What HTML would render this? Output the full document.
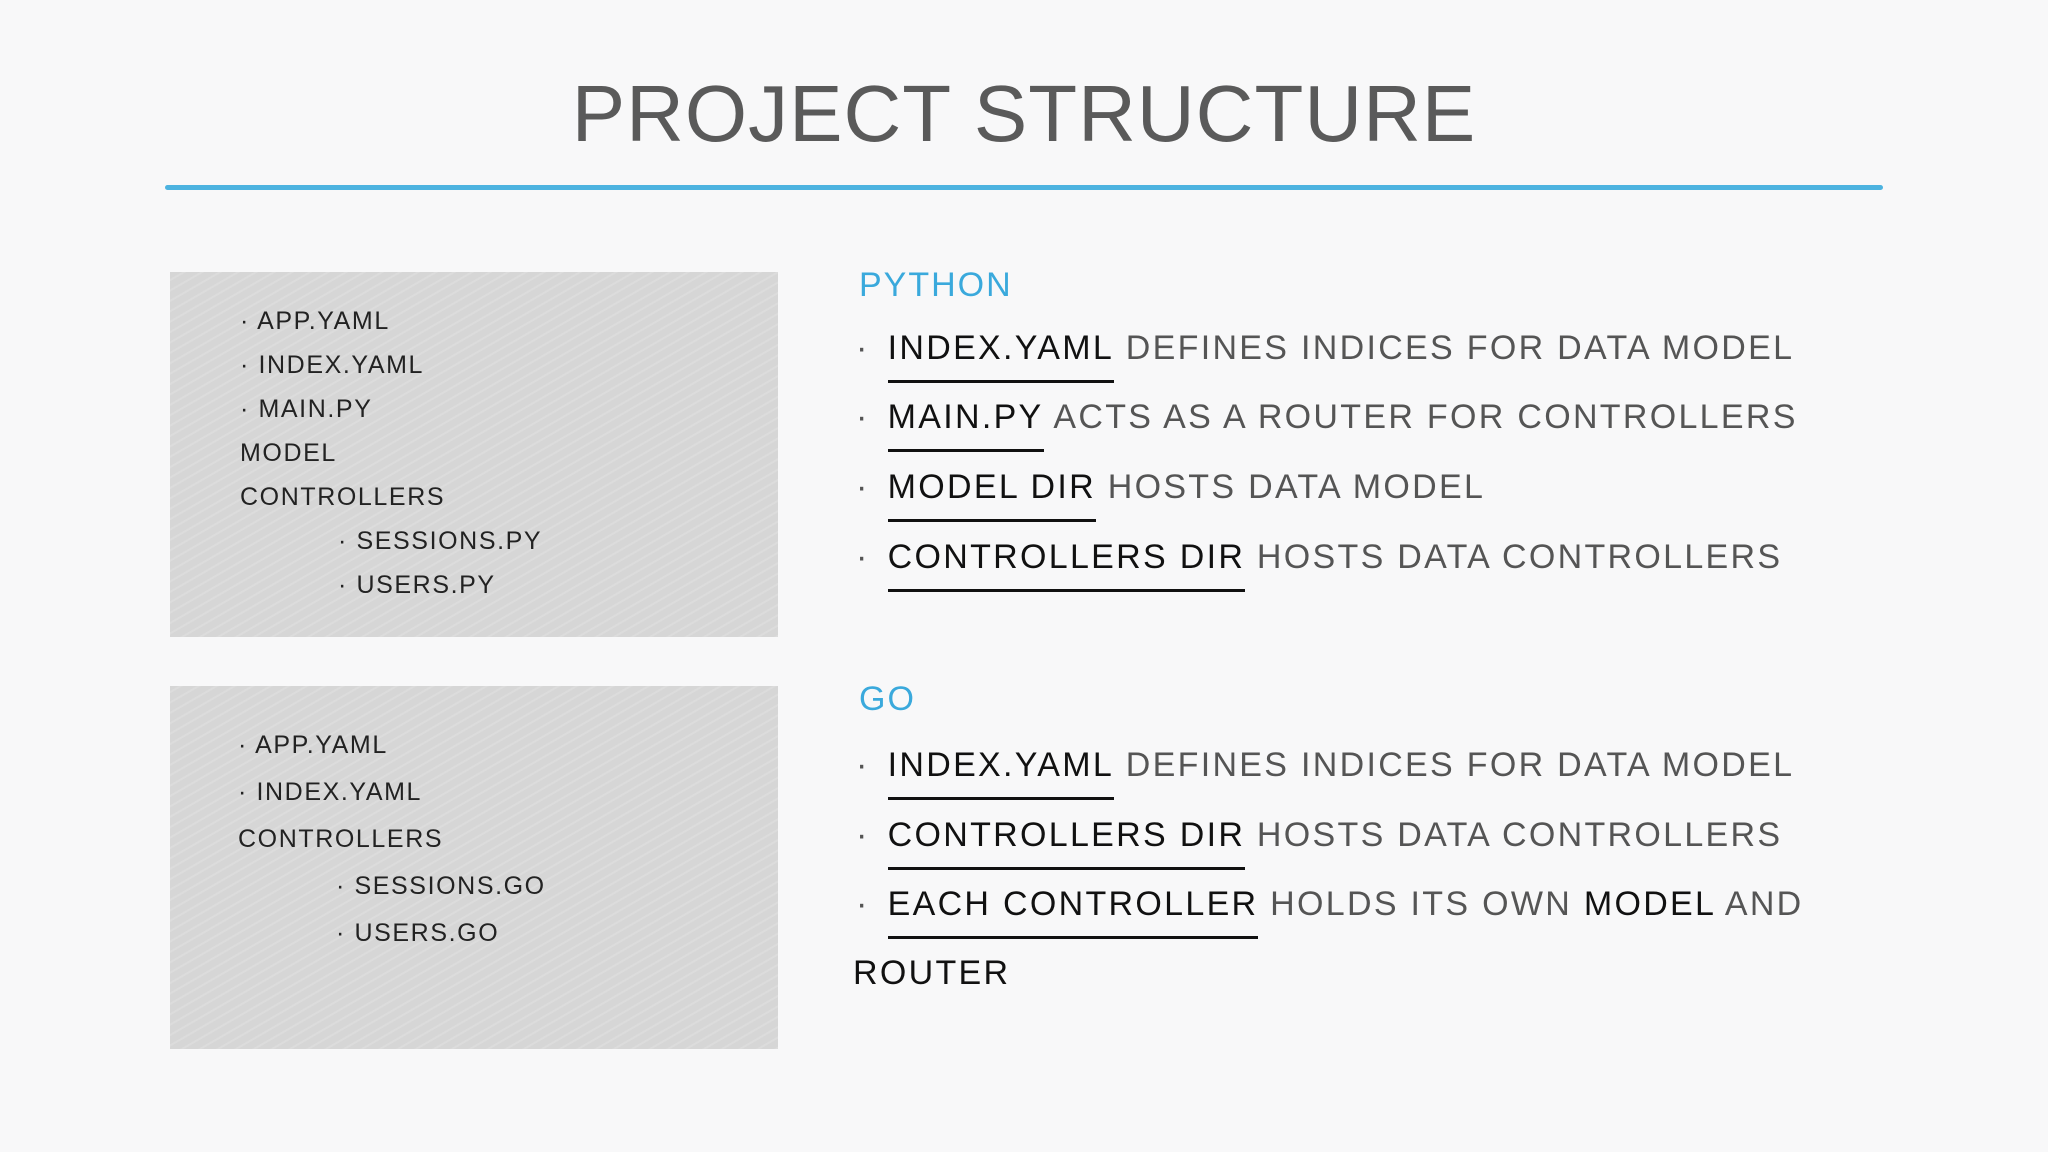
<!DOCTYPE html>
<html><head><meta charset="utf-8"><style>
body{margin:0;width:2048px;height:1152px;background:#f8f8f9;font-family:"Liberation Sans",sans-serif;position:relative;overflow:hidden}
.t{position:absolute;white-space:nowrap;text-transform:uppercase}
.title{left:0;width:2048px;text-align:center;top:68px;font-size:80px;color:#5a5a5a;letter-spacing:1px}
.line{position:absolute;left:165px;top:185px;width:1718px;height:5px;background:#4db3e0;border-radius:3px}
.box{position:absolute;left:170px;width:608px;background:#d6d6d6;background-image:repeating-linear-gradient(-30deg,rgba(255,255,255,0.15) 0 2px,transparent 2px 9px)}
.bx{font-size:25px;color:#222;letter-spacing:1.6px}
.h{font-size:34px;color:#3aa9dc;letter-spacing:2px}
.it{font-size:34px;color:#555;letter-spacing:2.3px}
.it b{color:#111;font-weight:normal;display:inline-block;border-bottom:3px solid #111;padding-bottom:12px;margin-bottom:-15px;margin-left:18px}
.it .k{color:#111}
</style></head><body>
<div class="t title">Project Structure</div>
<div class="line"></div>
<div class="box" style="top:272px;height:365px"></div>
<div class="box" style="top:686px;height:363px"></div>
<div class="t bx" style="left:240px;top:307px">· app.yaml</div>
<div class="t bx" style="left:240px;top:351px">· index.yaml</div>
<div class="t bx" style="left:240px;top:395px">· main.py</div>
<div class="t bx" style="left:240px;top:439px">model</div>
<div class="t bx" style="left:240px;top:483px">controllers</div>
<div class="t bx" style="left:338px;top:527px">· sessions.py</div>
<div class="t bx" style="left:338px;top:571px">· users.py</div>
<div class="t bx" style="left:238px;top:731px">· app.yaml</div>
<div class="t bx" style="left:238px;top:778px">· index.yaml</div>
<div class="t bx" style="left:238px;top:825px">controllers</div>
<div class="t bx" style="left:336px;top:872px">· sessions.go</div>
<div class="t bx" style="left:336px;top:919px">· users.go</div>
<div class="t h" style="left:859px;top:266px">Python</div>
<div class="t it" style="left:856px;top:329px">·<b>index.yaml</b> defines indices for data model</div>
<div class="t it" style="left:856px;top:398px">·<b>main.py</b> acts as a router for controllers</div>
<div class="t it" style="left:856px;top:468px">·<b>model dir</b> hosts data model</div>
<div class="t it" style="left:856px;top:538px">·<b>controllers dir</b> hosts data controllers</div>
<div class="t h" style="left:859px;top:680px">Go</div>
<div class="t it" style="left:856px;top:746px">·<b>index.yaml</b> defines indices for data model</div>
<div class="t it" style="left:856px;top:816px">·<b>controllers dir</b> hosts data controllers</div>
<div class="t it" style="left:856px;top:885px">·<b>each controller</b> holds its own <span class="k">model</span> and</div>
<div class="t it" style="left:853px;top:954px"><span class="k">router</span></div>
</body></html>
